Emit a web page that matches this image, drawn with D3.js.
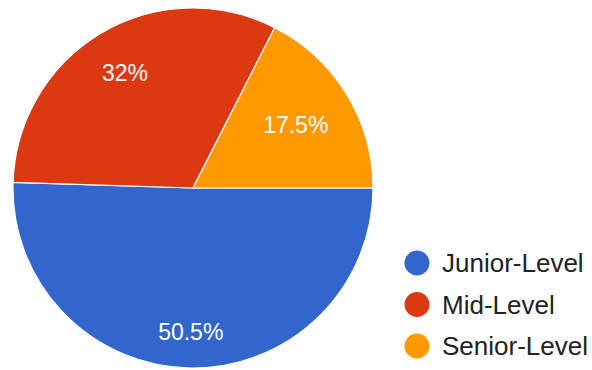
<!DOCTYPE html>
<html>
<head>
<meta charset="utf-8">
<script src="https://cdn.jsdelivr.net/npm/d3@7"></script>
<style>
  body { margin: 0; background: #fff; }
  text { font-family: "Liberation Sans", Arial, sans-serif; }
</style>
</head>
<body>
<div id="chart"></div>
<script>
// chart data
var categories = ["Junior-Level", "Mid-Level", "Senior-Level"];
var values = [50.5, 32, 17.5];
var labels = ["50.5%", "32%", "17.5%"];
var colors = ["#3366cc", "#dc3912", "#ff9900"];

var svgWidth = 592;
var svgHeight = 370;
var radius = 180;
var cx = 193, cy = 188;

var svg = d3.select("#chart")
  .append("svg")
  .attr("width", svgWidth)
  .attr("height", svgHeight);

var pieGroup = svg.append("g")
  .attr("transform", `translate(${cx}, ${cy})`);

// pie starts at 3 o'clock, clockwise, in data order
var pie = d3.pie()
  .sort(null)
  .startAngle(Math.PI / 2)
  .endAngle(Math.PI / 2 + 2 * Math.PI)
  .value(d => d);

var arc = d3.arc().innerRadius(0).outerRadius(radius);
var arcs = pie(values);

pieGroup.selectAll("path")
  .data(arcs)
  .enter()
  .append("path")
  .attr("d", arc)
  .attr("fill", (d, i) => colors[i])
  .attr("stroke", "#fff")
  .attr("stroke-width", 1.2);

// slice labels: push text box outward until its far edge hits 0.85r
var labelText = pieGroup.selectAll("text.slice")
  .data(arcs)
  .enter()
  .append("text")
  .attr("class", "slice")
  .attr("text-anchor", "middle")
  .attr("dy", "0.35em")
  .style("font-size", "23px")
  .attr("fill", "#fff")
  .text((d, i) => labels[i]);

labelText.each(function(d) {
  var box = this.getBBox();
  var a = (d.startAngle + d.endAngle) / 2;
  var sx = Math.sin(a), sy = -Math.cos(a);
  var hw = box.width / 2, hh = 9;
  var r = radius * 0.85 - (hw * Math.abs(sx) + hh * Math.abs(sy));
  d3.select(this).attr("x", r * sx).attr("y", r * sy);
});

// legend
var legend = svg.append("g")
  .attr("transform", "translate(417, 263)");

var legendItems = legend.selectAll("g")
  .data(categories)
  .enter()
  .append("g")
  .attr("transform", (d, i) => `translate(0, ${i * 41.5})`);

legendItems.append("circle")
  .attr("r", 12.5)
  .attr("fill", (d, i) => colors[i]);

legendItems.append("text")
  .attr("x", 25)
  .attr("dy", "0.35em")
  .style("font-size", "26px")
  .attr("fill", "#222")
  .text(d => d);
</script>
</body>
</html>
